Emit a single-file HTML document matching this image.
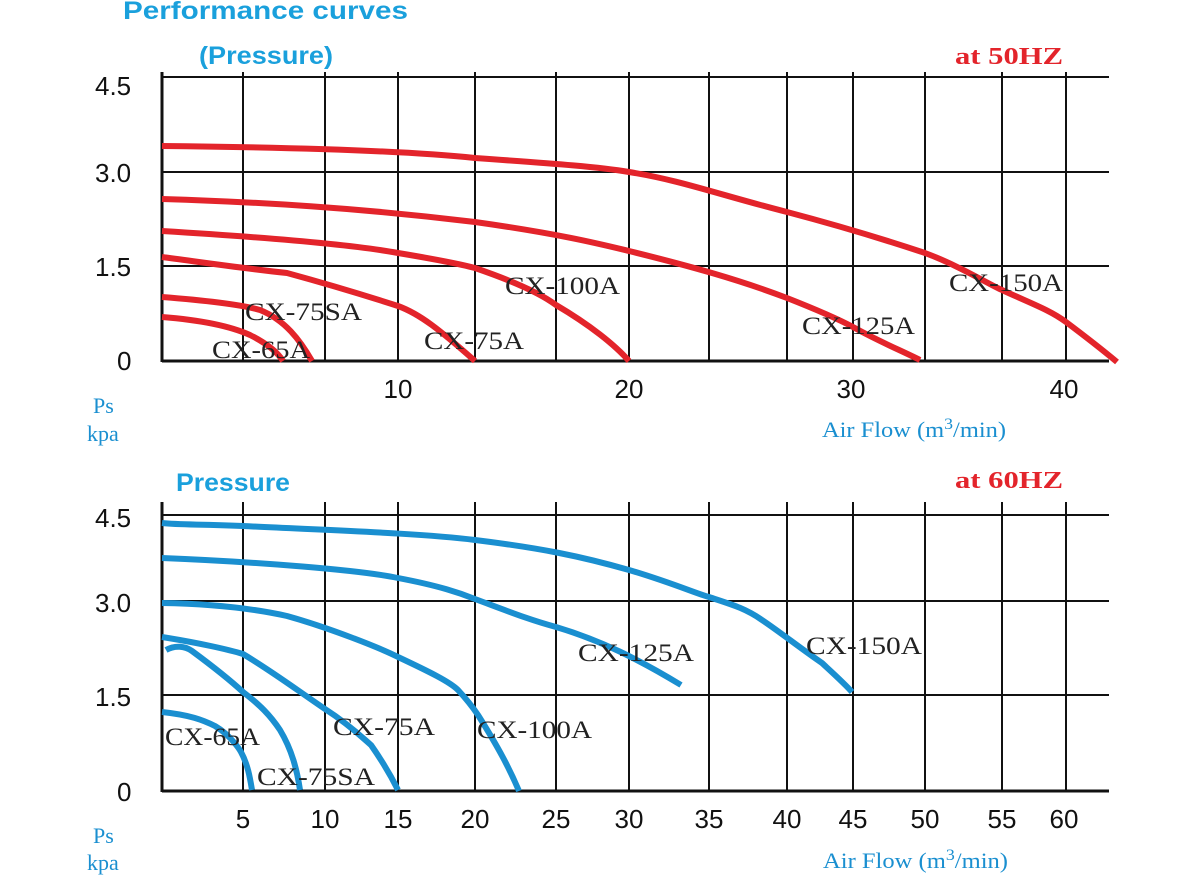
<!DOCTYPE html>
<html><head><meta charset="utf-8"><style>
html,body{margin:0;padding:0;background:#fff;}
svg{display:block;}
.ax{font-family:"Liberation Sans",sans-serif;font-size:26px;fill:#111;}
.lb{font-family:"Liberation Serif",serif;font-size:25px;fill:#222;}
.bl{font-family:"Liberation Serif",serif;font-size:22px;fill:#1a8fd0;}
.hz{font-family:"Liberation Serif",serif;font-size:24px;font-weight:bold;fill:#e3242b;}
.tt{font-family:"Liberation Sans",sans-serif;font-size:25px;font-weight:bold;fill:#1aa0dc;}
.r{fill:none;stroke:#e3242b;stroke-width:6;stroke-linejoin:round;}
.b{fill:none;stroke:#1a8fd0;stroke-width:6;stroke-linejoin:round;}
.g{stroke:#111;stroke-width:2;}
</style></head><body>
<svg width="1187" height="876" viewBox="0 0 1187 876" xmlns="http://www.w3.org/2000/svg">
<text class="tt" x="123" y="19" textLength="285" lengthAdjust="spacingAndGlyphs">Performance curves</text>
<text class="tt" x="199" y="64" textLength="134" lengthAdjust="spacingAndGlyphs">(Pressure)</text>
<text class="hz" x="955" y="64" textLength="108" lengthAdjust="spacingAndGlyphs">at  50HZ</text>
<g class="g">
<line x1="162" y1="77" x2="1109" y2="77"/><line x1="162" y1="172" x2="1109" y2="172"/>
<line x1="162" y1="266" x2="1109" y2="266"/><line x1="162" y1="361" x2="1109" y2="361" stroke-width="3"/>
<line x1="162" y1="72" x2="162" y2="362" stroke-width="3"/>
<line x1="243" y1="72" x2="243" y2="361"/><line x1="325" y1="72" x2="325" y2="361"/><line x1="398" y1="72" x2="398" y2="361"/>
<line x1="475" y1="72" x2="475" y2="361"/><line x1="556" y1="72" x2="556" y2="361"/><line x1="629" y1="72" x2="629" y2="361"/>
<line x1="709" y1="72" x2="709" y2="361"/><line x1="787" y1="72" x2="787" y2="361"/><line x1="853" y1="72" x2="853" y2="361"/>
<line x1="925" y1="72" x2="925" y2="361"/><line x1="1002" y1="72" x2="1002" y2="361"/><line x1="1066" y1="72" x2="1066" y2="361"/>
</g>
<text class="ax" x="95" y="95">4.5</text><text class="ax" x="95" y="182">3.0</text>
<text class="ax" x="95" y="276">1.5</text><text class="ax" x="117" y="370">0</text>
<text class="ax" x="398" y="398" text-anchor="middle">10</text><text class="ax" x="629" y="398" text-anchor="middle">20</text>
<text class="ax" x="851" y="398" text-anchor="middle">30</text><text class="ax" x="1064" y="398" text-anchor="middle">40</text>
<text class="bl" x="93" y="413">Ps</text><text class="bl" x="87" y="441">kpa</text>
<text class="bl" x="822" y="437" textLength="184" lengthAdjust="spacingAndGlyphs">Air Flow (m<tspan dy="-8" font-size="16">3</tspan><tspan dy="8">/min)</tspan></text>
<path class="r" d="M162,146 C260,147 400,150 475,158 C560,164 600,167 629,172 C680,180 720,195 787,212 C840,226 880,238 925,253 C960,266 990,285 1002,290 C1030,303 1050,310 1066,322 C1090,340 1105,352 1117,362"/>
<path class="r" d="M162,199 C260,202 360,208 475,222 C560,234 600,244 629,251 C690,266 740,280 787,298 C820,311 840,320 853,327 C880,342 900,350 920,360"/>
<path class="r" d="M162,231 C260,237 350,244 398,253 C440,260 460,264 475,268 C510,280 540,293 556,305 C590,325 615,345 629,361"/>
<path class="r" d="M162,257 C200,262 240,268 287,273 C320,282 370,297 398,306 C420,314 440,330 475,361"/>
<path class="r" d="M162,297 C200,300 240,304 260,310 C285,320 300,340 312,361"/>
<path class="r" d="M162,317 C200,320 230,326 250,335 C268,344 278,353 283,361"/>
<text class="lb" x="245" y="320" textLength="117" lengthAdjust="spacingAndGlyphs">CX-75SA</text>
<text class="lb" x="212" y="358" textLength="98" lengthAdjust="spacingAndGlyphs">CX-65A</text>
<text class="lb" x="424" y="349" textLength="100" lengthAdjust="spacingAndGlyphs">CX-75A</text>
<text class="lb" x="505" y="294" textLength="115" lengthAdjust="spacingAndGlyphs">CX-100A</text>
<text class="lb" x="802" y="334" textLength="113" lengthAdjust="spacingAndGlyphs">CX-125A</text>
<text class="lb" x="949" y="291" textLength="114" lengthAdjust="spacingAndGlyphs">CX-150A</text>

<text class="tt" x="176" y="491" textLength="114" lengthAdjust="spacingAndGlyphs">Pressure</text>
<text class="hz" x="955" y="488" textLength="108" lengthAdjust="spacingAndGlyphs">at  60HZ</text>
<g class="g">
<line x1="162" y1="515" x2="1109" y2="515"/><line x1="162" y1="601" x2="1109" y2="601"/>
<line x1="162" y1="695" x2="1109" y2="695"/><line x1="162" y1="791" x2="1109" y2="791" stroke-width="3"/>
<line x1="162" y1="502" x2="162" y2="792" stroke-width="3"/>
<line x1="243" y1="502" x2="243" y2="791"/><line x1="325" y1="502" x2="325" y2="791"/><line x1="398" y1="502" x2="398" y2="791"/>
<line x1="475" y1="502" x2="475" y2="791"/><line x1="556" y1="502" x2="556" y2="791"/><line x1="629" y1="502" x2="629" y2="791"/>
<line x1="709" y1="502" x2="709" y2="791"/><line x1="787" y1="502" x2="787" y2="791"/><line x1="853" y1="502" x2="853" y2="791"/>
<line x1="925" y1="502" x2="925" y2="791"/><line x1="1002" y1="502" x2="1002" y2="791"/><line x1="1066" y1="502" x2="1066" y2="791"/>
</g>
<text class="ax" x="95" y="527">4.5</text><text class="ax" x="95" y="612">3.0</text>
<text class="ax" x="95" y="706">1.5</text><text class="ax" x="117" y="801">0</text>
<g text-anchor="middle">
<text class="ax" x="243" y="828">5</text><text class="ax" x="325" y="828">10</text><text class="ax" x="398" y="828">15</text>
<text class="ax" x="475" y="828">20</text><text class="ax" x="556" y="828">25</text><text class="ax" x="629" y="828">30</text>
<text class="ax" x="709" y="828">35</text><text class="ax" x="787" y="828">40</text><text class="ax" x="853" y="828">45</text>
<text class="ax" x="925" y="828">50</text><text class="ax" x="1002" y="828">55</text><text class="ax" x="1064" y="828">60</text>
</g>
<text class="bl" x="93" y="843">Ps</text><text class="bl" x="87" y="870">kpa</text>
<text class="bl" x="823" y="868" textLength="185" lengthAdjust="spacingAndGlyphs">Air Flow (m<tspan dy="-8" font-size="16">3</tspan><tspan dy="8">/min)</tspan></text>
<path class="b" d="M162,523 C180,525 200,524 243,526 C320,530 420,533 475,540 C540,548 580,556 629,570 C670,582 700,595 709,597 C730,604 745,608 762,620 C780,632 800,648 822,663 C835,675 845,684 852,692"/>
<path class="b" d="M162,558 C260,562 360,570 398,578 C440,586 460,593 475,599 C510,612 530,620 556,627 C600,640 640,660 681,685"/>
<path class="b" d="M162,603 C220,604 260,610 287,616 C330,628 380,648 398,657 C430,672 450,682 458,690 C470,703 478,715 478,715 C500,750 510,770 519,791"/>
<path class="b" d="M162,637 C200,643 230,650 243,654 C270,670 290,685 325,709 C350,725 365,740 371,745 C385,765 392,778 398,790"/>
<path class="b" d="M166,650 C175,645 185,646 192,651 C215,668 230,680 243,692 C260,705 270,715 280,730 C292,750 297,770 300,790"/>
<path class="b" d="M162,712 C190,715 203,720 215,726 C232,736 241,752 241,752 C248,765 250,778 252,790"/>
<text class="lb" x="165" y="745" textLength="95" lengthAdjust="spacingAndGlyphs">CX-65A</text>
<text class="lb" x="257" y="785" textLength="118" lengthAdjust="spacingAndGlyphs">CX-75SA</text>
<text class="lb" x="333" y="735" textLength="102" lengthAdjust="spacingAndGlyphs">CX-75A</text>
<text class="lb" x="477" y="738" textLength="115" lengthAdjust="spacingAndGlyphs">CX-100A</text>
<text class="lb" x="578" y="661" textLength="116" lengthAdjust="spacingAndGlyphs">CX-125A</text>
<text class="lb" x="806" y="654" textLength="116" lengthAdjust="spacingAndGlyphs">CX-150A</text>
</svg>
</body></html>
